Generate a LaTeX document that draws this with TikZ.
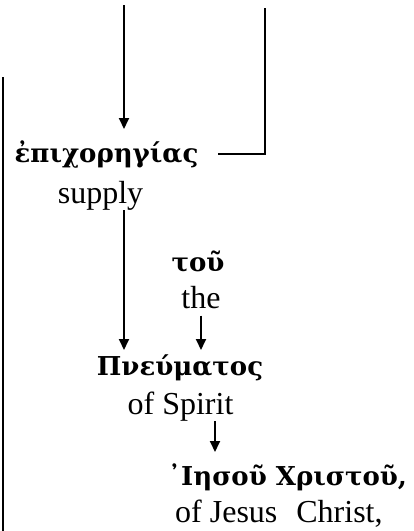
\documentclass[tikz,border=0pt]{standalone}
\usepackage{fontspec}
\setmainfont{Liberation Serif}
\newfontfamily\grk{DejaVu Serif}
\usetikzlibrary{arrows.meta,calc}
\begin{document}
\begin{tikzpicture}[x=1pt,y=-1pt,
  greek/.style={font=\grk\fontsize{26}{26}\selectfont\bfseries, inner sep=0pt, anchor=base},
  eng/.style={font=\fontsize{32}{32}\selectfont, inner sep=0pt, anchor=base},
  line/.style={line width=1.8pt},
  arr/.style={line width=1.8pt, -{Triangle[length=11pt,width=10pt]}}]
\useasboundingbox (0,0) rectangle (414,531);
% Greek and English words
\node[greek] (g1) at (106.5,162) {ἐπιχορηγίας};
\node[eng] (e1) at (100.5,203) {supply};
\node[greek] (g2) at (198,271) {τοῦ};
\node[eng] (e2) at (201,308) {the};
\node[greek] (g3) at (180,375) {Πνεύματος};
\node[eng] (e3) at (180.5,414) {of Spirit};
\node[greek, anchor=base west] (g4) at (168,485) {᾿Ιησοῦ Χριστοῦ,};
\node[eng, anchor=base west] (e4) at (175,522) {of Jesus\hspace{19pt}Christ,};
% free ends and connector columns
\coordinate (t1) at (124,5);
\coordinate (t2) at (265,8);
\coordinate (t3) at (3,77);
\coordinate (b3) at (3,531);
\coordinate (c3) at (201,0);
\coordinate (c4) at (215,0);
% connectors
\draw[arr] (t1) -- (t1 |- 0,129);
\draw[line] (t2) -- (t2 |- 0,154) -- ([xshift=19pt]g1.east |- 0,154);
\draw[line, line width=2.2pt] (t3) -- (b3);
\draw[arr] (e1.south -| t1) -- (t1 |- 0,350);
\draw[arr] ([yshift=-7pt]e2.south -| c3) -- (c3 |- 0,350);
\draw[arr] (e3.south -| c4) -- (c4 |- 0,452);
\end{tikzpicture}
\end{document}
